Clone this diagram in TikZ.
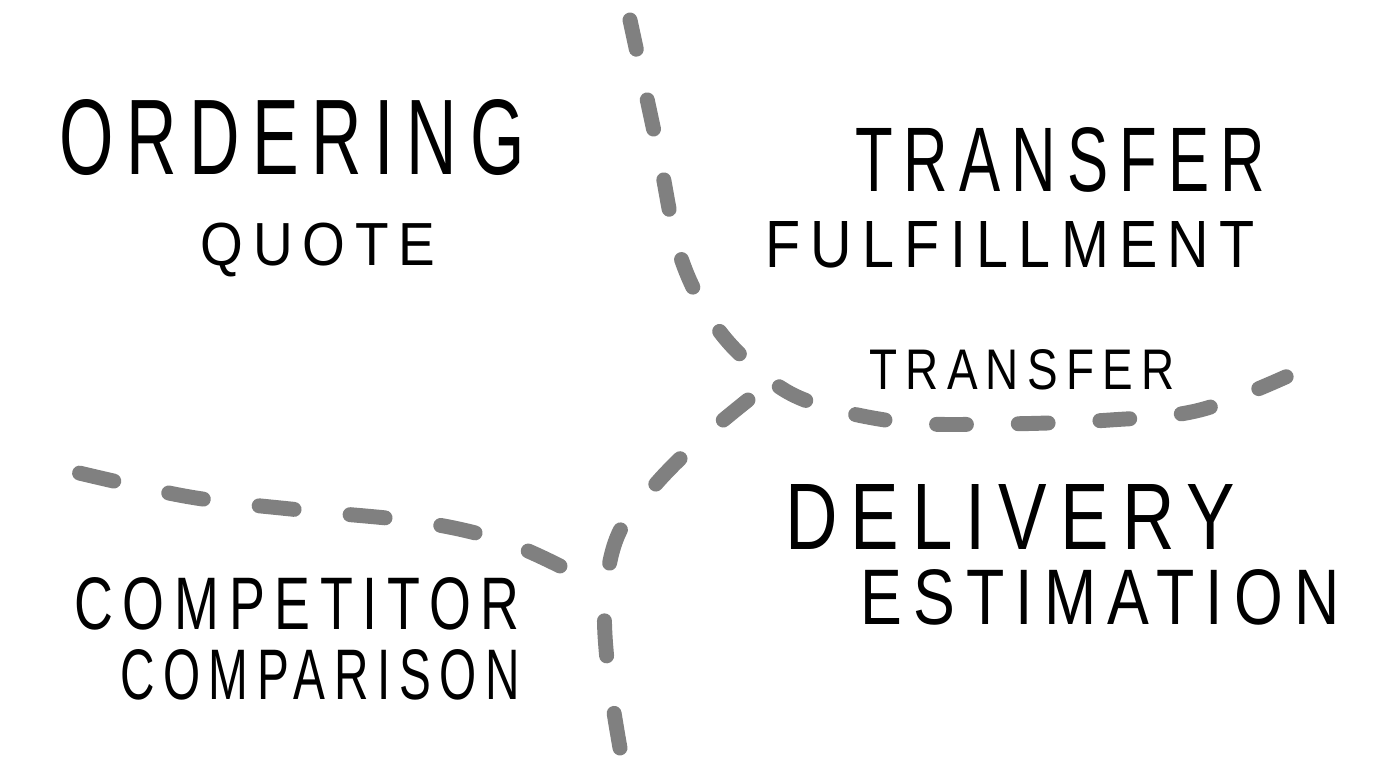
\documentclass[tikz,border=0pt]{standalone}
\usepackage{graphicx}
\usepackage{fontspec}
\newfontfamily\handfont[LetterSpace=18]{Liberation Sans}
\newcommand{\handtext}[3]{\resizebox{#1}{#2}{\handfont #3}}
\tikzset{
  word/.style={inner sep=0pt, anchor=center},
  border/.style={line width=8.5pt, color=black!50, line cap=round, dash pattern=on 17pt off 31pt}
}

\begin{document}
\begin{tikzpicture}[x=0.02cm,y=-0.02cm]
  \useasboundingbox (0,0) rectangle (1400,760);
  \fill[white] (0,0) rectangle (1400,760);

  % dashed borders
  \draw[border, dash pattern=on 17pt off 29.5pt] plot[smooth,tension=0.6] coordinates {(630,20) (658,150) (680,255) (715,325) (760,372) (810,402) (900,422) (1000,424) (1110,420) (1200,410) (1290,375)};
  \draw[border, dash pattern=on 20pt off 33pt] plot[smooth,tension=0.6] coordinates {(620,748) (608,670) (605,600) (618,535) (655,485) (700,440) (748,400)};
  \draw[border, dash pattern=on 20pt off 32pt] plot[smooth,tension=0.6] coordinates {(560,566) (500,540) (420,522) (300,510) (190,497) (75,472)};

  % labels
  \node[word] (ordering) at (292,138) {\handtext{9.3cm}{1.5cm}{ORDERING}};
  \node[word] (quote) at (318,250) {\handtext{4.7cm}{0.85cm}{QUOTE}};
  \node[word] (transfer) at (1060,160) {\handtext{8.2cm}{1.28cm}{TRANSFER}};
  \node[word] (fulfil) at (1010,245) {\handtext{9.8cm}{0.92cm}{FULFILLMENT}};
  \node[word] (transfer2) at (1022,370) {\handtext{6.1cm}{0.8cm}{TRANSFER}};
  \node[word] (delivery) at (1010,517) {\handtext{9.0cm}{1.3cm}{DELIVERY}};
  \node[word] (estimation) at (1100,597) {\handtext{9.6cm}{1.1cm}{ESTIMATION}};
  \node[word] (competitor) at (297,604) {\handtext{8.9cm}{1.04cm}{COMPETITOR}};
  \node[word] (comparison) at (320,675) {\handtext{8.0cm}{1.0cm}{COMPARISON}};
\end{tikzpicture}
\end{document}
